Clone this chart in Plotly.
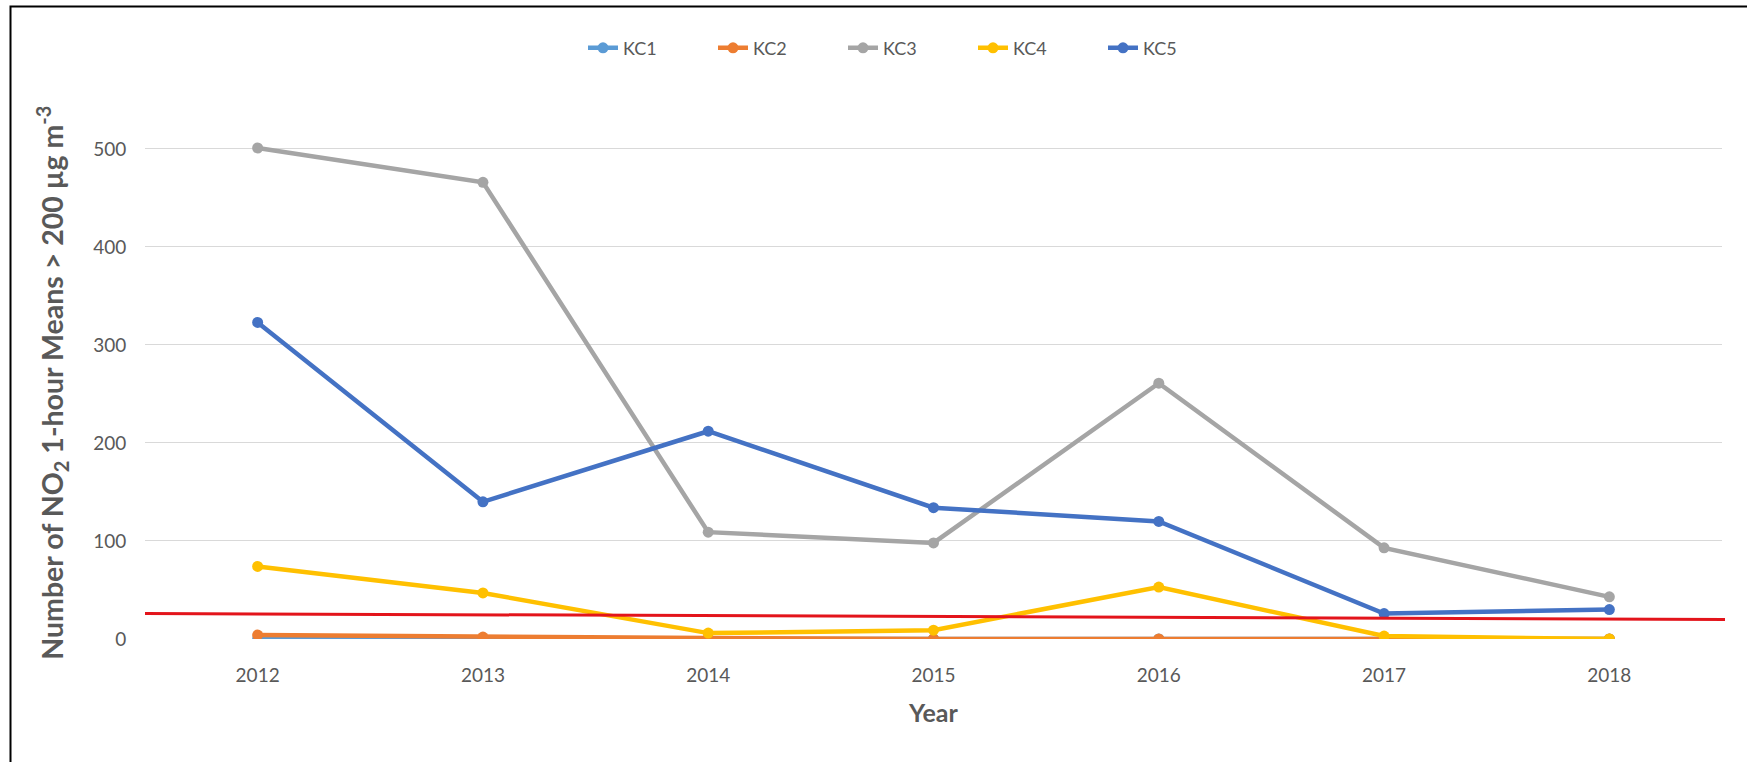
import plotly.graph_objects as go

# Monitoring years and annual counts of NO2 1-hour means above 200 µg/m3
years = ["2012", "2013", "2014", "2015", "2016", "2017", "2018"]
kc1 = [0, 0, 0, 0, 0, 0, 0]
kc2 = [4, 2, 1, 0, 0, 0, 0]
kc3 = [501, 466, 109, 98, 261, 93, 43]
kc4 = [74, 47, 6, 9, 53, 3, 0]
kc5 = [323, 140, 212, 134, 120, 26, 30]
y_ticks = [0, 100, 200, 300, 400, 500]

# Reference threshold line (start / end values)
limit_start = 26
limit_end = 20

series = [
    ("KC1", kc1, "#5B9BD5"),
    ("KC2", kc2, "#ED7D31"),
    ("KC3", kc3, "#A5A5A5"),
    ("KC4", kc4, "#FFC000"),
    ("KC5", kc5, "#4472C4"),
]

W, H = 1747, 762
L, R, T, B = 145, 25, 120, 122.5
plot_w = W - L - R
plot_h = H - T - B


def px_x(px):
    return (px - L) / plot_w


def px_y(px):
    return (H - B - px) / plot_h


fig = go.Figure()
for name, vals, col in series:
    fig.add_trace(go.Scatter(
        x=years, y=vals, name=name, mode="lines+markers",
        line=dict(color=col, width=4.5),
        marker=dict(color=col, size=11),
    ))

font_fam = "Lato, 'Open Sans', sans-serif"
grey = "#595959"

fig.update_layout(
    width=W, height=H,
    margin=dict(l=L, r=R, t=T, b=B),
    paper_bgcolor="white", plot_bgcolor="white",
    font=dict(family=font_fam, color=grey, size=19),
    showlegend=True,
    legend=dict(
        orientation="h", x=px_x(908), xanchor="center",
        y=px_y(48), yanchor="middle",
        font=dict(size=18, color=grey),
        entrywidth=85, entrywidthmode="pixels",
        traceorder="normal",
    ),
    xaxis=dict(
        type="category", range=[-0.5, 6.5],
        showgrid=False, zeroline=False, showline=False,
        ticks="outside", ticklen=19, tickcolor="rgba(0,0,0,0)",
        tickfont=dict(size=19, color=grey),
    ),
    yaxis=dict(
        range=[0, (639.5 - T) / 0.981], tickvals=y_ticks,
        showgrid=True, gridcolor="#D9D9D9", gridwidth=1,
        zeroline=False, showline=False,
        ticks="outside", ticklen=14, tickcolor="rgba(0,0,0,0)",
        tickfont=dict(size=19, color=grey),
    ),
)

# Axis titles
fig.add_annotation(
    text="<b>Number of NO<sub>2</sub> 1-hour Means &gt; 200 µg m<sup>-3</sup></b>",
    textangle=-90, showarrow=False,
    xref="paper", yref="paper",
    x=px_x(52), y=px_y(383),
    xanchor="center", yanchor="middle",
    font=dict(size=28.5, color=grey, family=font_fam),
)
fig.add_annotation(
    text="<b>Year</b>", showarrow=False,
    xref="paper", yref="paper",
    x=px_x(933), y=px_y(713),
    xanchor="center", yanchor="middle",
    font=dict(size=25, color=grey, family=font_fam),
)

# Threshold line
fig.add_shape(
    type="line", xref="paper", yref="y",
    x0=0, x1=px_x(1725), y0=limit_start, y1=limit_end,
    line=dict(color="#E3141B", width=3), layer="above",
)

# Outer frame (top and left edges visible)
fig.add_shape(
    type="rect", xref="paper", yref="paper",
    x0=px_x(10.5), x1=1.5,
    y0=-1.0, y1=px_y(6.5),
    line=dict(color="black", width=2), fillcolor="rgba(0,0,0,0)", layer="above",
)

fig.write_html("out.html")
